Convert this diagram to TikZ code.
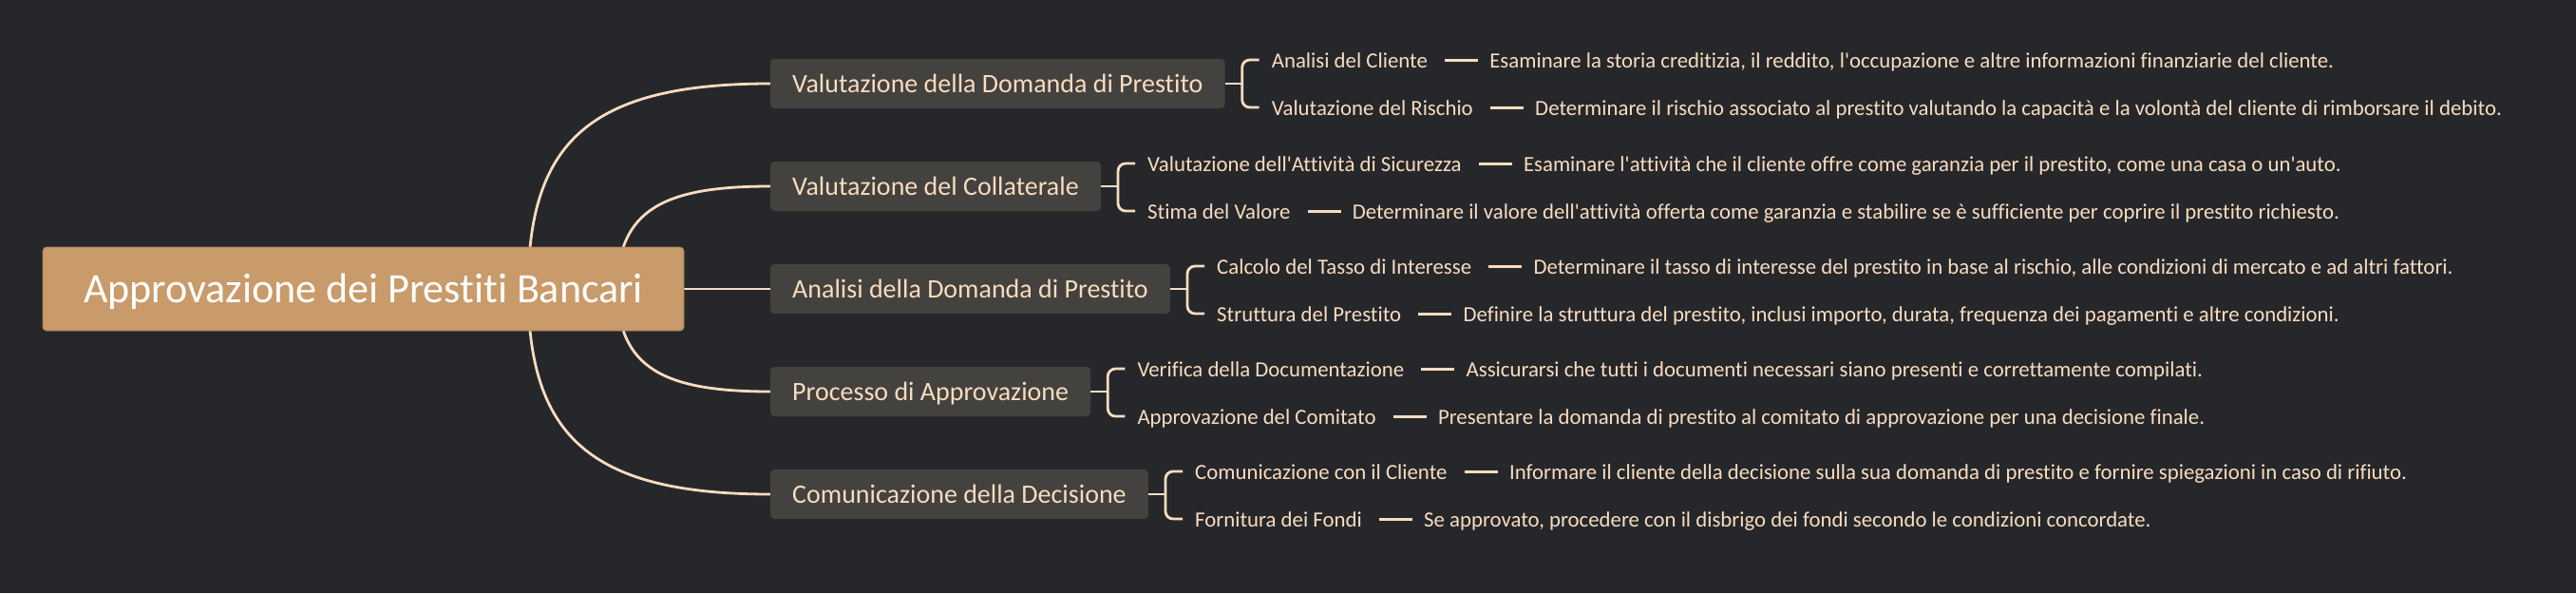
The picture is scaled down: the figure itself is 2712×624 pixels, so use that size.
\documentclass[tikz,border=0pt]{standalone}
\usepackage{fontspec}
\setmainfont{Carlito}
\newfontfamily\cf{Carlito}[Ligatures=NoCommon]
\usetikzlibrary{calc}
\definecolor{bgc}{RGB}{38,39,42}
\definecolor{rootc}{RGB}{201,155,106}
\definecolor{rootb}{RGB}{168,127,84}
\definecolor{boxc}{RGB}{68,66,62}
\definecolor{peach}{RGB}{248,220,192}
\pgfdeclarelayer{bg}
\pgfdeclarelayer{lines}
\pgfsetlayers{bg,lines,main}
\begin{document}
\begin{tikzpicture}[x=1pt,y=-1pt,
  rootbox/.style={draw=rootb, line width=0.8pt, fill=rootc, rounded corners=4pt, text=white,
    font=\cf\fontsize{44}{50}\selectfont, minimum width=675pt, minimum height=88pt, inner sep=0pt,
    text height=28.3pt, text depth=0pt},
  branch/.style={fill=boxc, rounded corners=4pt, text=peach, font=\cf\fontsize{28}{32}\selectfont,
    inner xsep=23pt, inner ysep=0pt, minimum height=52pt, anchor=west, text height=18pt, text depth=0pt},
  leaf/.style={text=peach, font=\cf\fontsize{22.8}{26}\selectfont, inner sep=0pt, anchor=west,
    text height=14.7pt, text depth=0pt},
  link/.style={draw=peach, line width=2.8pt},
  bracel/.style={draw=peach, line width=2.8pt, rounded corners=8pt},
  dashln/.style={draw=peach, line width=3pt}
]
\useasboundingbox (0,0) rectangle (2712,624);
\begin{pgfonlayer}{bg}
\fill[bgc] (0,0) rectangle (2712,624);
\end{pgfonlayer}

\node[rootbox] (root) at (382.5,304) {Approvazione dei Prestiti Bancari};

\node[branch] (b1) at (811,88) {Valutazione della Domanda di Prestito};
\node[branch] (b2) at (811,196) {Valutazione del Collaterale};
\node[branch] (b3) at (811,304) {Analisi della Domanda di Prestito};
\node[branch] (b4) at (811,412) {Processo di Approvazione};
\node[branch] (b5) at (811,520) {Comunicazione della Decisione};

\begin{pgfonlayer}{lines}
\draw[link] ([xshift=173.5pt]root.center) .. controls +(0,-154) and +(-191,0) .. (b1.west);
\draw[link] ([xshift=267.5pt]root.center) .. controls +(0,-84) and +(-111,0) .. (b2.west);
\draw[link] (root.east) -- (b3.west);
\draw[link] ([xshift=267.5pt]root.center) .. controls +(0,84) and +(-111,0) .. (b4.west);
\draw[link] ([xshift=173.5pt]root.center) .. controls +(0,154) and +(-191,0) .. (b5.west);
\end{pgfonlayer}

% branch 1
\node[leaf] (l11) at ($(b1.east)+(49,-24)$) {Analisi del Cliente};
\node[leaf] (l12) at ($(b1.east)+(49,26)$) {Valutazione del Rischio};
\node[leaf] (d11) at ($(l11.east)+(65,0)$) {Esaminare la storia creditizia, il reddito, l'occupazione e altre informazioni finanziarie del cliente.};
\node[leaf] (d12) at ($(l12.east)+(65,0)$) {Determinare il rischio associato al prestito valutando la capacità e la volontà del cliente di rimborsare il debito.};
% branch 2
\node[leaf] (l21) at ($(b2.east)+(49,-23)$) {Valutazione dell'Attività di Sicurezza};
\node[leaf] (l22) at ($(b2.east)+(49,27)$) {Stima del Valore};
\node[leaf] (d21) at ($(l21.east)+(65,0)$) {Esaminare l'attività che il cliente offre come garanzia per il prestito, come una casa o un'auto.};
\node[leaf] (d22) at ($(l22.east)+(65,0)$) {Determinare il valore dell'attività offerta come garanzia e stabilire se è sufficiente per coprire il prestito richiesto.};
% branch 3
\node[leaf] (l31) at ($(b3.east)+(49,-23)$) {Calcolo del Tasso di Interesse};
\node[leaf] (l32) at ($(b3.east)+(49,27)$) {Struttura del Prestito};
\node[leaf] (d31) at ($(l31.east)+(65,0)$) {Determinare il tasso di interesse del prestito in base al rischio, alle condizioni di mercato e ad altri fattori.};
\node[leaf] (d32) at ($(l32.east)+(65,0)$) {Definire la struttura del prestito, inclusi importo, durata, frequenza dei pagamenti e altre condizioni.};
% branch 4
\node[leaf] (l41) at ($(b4.east)+(49,-23)$) {Verifica della Documentazione};
\node[leaf] (l42) at ($(b4.east)+(49,27)$) {Approvazione del Comitato};
\node[leaf] (d41) at ($(l41.east)+(65,0)$) {Assicurarsi che tutti i documenti necessari siano presenti e correttamente compilati.};
\node[leaf] (d42) at ($(l42.east)+(65,0)$) {Presentare la domanda di prestito al comitato di approvazione per una decisione finale.};
% branch 5
\node[leaf] (l51) at ($(b5.east)+(49,-23)$) {Comunicazione con il Cliente};
\node[leaf] (l52) at ($(b5.east)+(49,27)$) {Fornitura dei Fondi};
\node[leaf] (d51) at ($(l51.east)+(65,0)$) {Informare il cliente della decisione sulla sua domanda di prestito e fornire spiegazioni in caso di rifiuto.};
\node[leaf] (d52) at ($(l52.east)+(65,0)$) {Se approvato, procedere con il disbrigo dei fondi secondo le condizioni concordate.};

% brackets and dashes
\foreach \b in {1,2,3,4,5}{
  \draw[link] (b\b.east) -- ++(18,0) coordinate (k\b);
  \draw[bracel] ([shift={(-13,-1)}]l\b1.west) -| (k\b) |- ([shift={(-13,-1)}]l\b2.west);
  \draw[dashln] ([shift={(18,-1)}]l\b1.east) -- ([shift={(-12,-1)}]d\b1.west);
  \draw[dashln] ([shift={(18,-1)}]l\b2.east) -- ([shift={(-12,-1)}]d\b2.west);
}
\end{tikzpicture}
\end{document}
